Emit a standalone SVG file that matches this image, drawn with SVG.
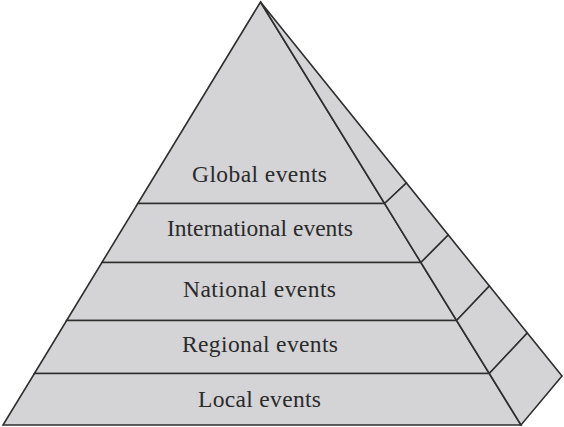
<svg xmlns="http://www.w3.org/2000/svg" width="564" height="427" viewBox="0 0 564 427">
<style>
.face{fill:#d4d4d6;stroke:#2e2e2e;stroke-width:1.6;stroke-linejoin:miter}
.lbl{font-family:"Liberation Serif","Times New Roman",serif;font-size:23.5px;fill:#2a2a2a;text-anchor:middle}
</style>
<rect width="564" height="427" fill="#ffffff"/>
<g id="tier-global">
<polygon class="face" points="260.5,2 137.8,203.5 384.6,203.5"/>
<polygon class="face" points="260.5,2 384.6,203.5 406.4,183"/>
<text class="lbl" x="259.5" y="182" textLength="135" lengthAdjust="spacing">Global events</text>
</g>
<g id="tier-international">
<polygon class="face" points="137.8,203.5 384.6,203.5 420.9,262.5 101.9,262.5"/>
<polygon class="face" points="384.6,203.5 406.4,183 448.3,235 420.9,262.5"/>
<text class="lbl" x="260" y="236" textLength="186" lengthAdjust="spacing">International events</text>
</g>
<g id="tier-national">
<polygon class="face" points="101.9,262.5 420.9,262.5 456.6,320.5 66.6,320.5"/>
<polygon class="face" points="420.9,262.5 448.3,235 489.4,286 456.6,320.5"/>
<text class="lbl" x="259.5" y="297" textLength="153" lengthAdjust="spacing">National events</text>
</g>
<g id="tier-regional">
<polygon class="face" points="66.6,320.5 456.6,320.5 489.3,373.5 34.4,373.5"/>
<polygon class="face" points="456.6,320.5 489.4,286 527.3,333 489.3,373.5"/>
<text class="lbl" x="260" y="352" textLength="156" lengthAdjust="spacing">Regional events</text>
</g>
<g id="tier-local">
<polygon class="face" points="34.4,373.5 489.3,373.5 521,425 3,425"/>
<polygon class="face" points="489.3,373.5 527.3,333 562,376 521,425"/>
<text class="lbl" x="259.5" y="407" textLength="123" lengthAdjust="spacing">Local events</text>
</g>
<g id="connectors"/>
</svg>
